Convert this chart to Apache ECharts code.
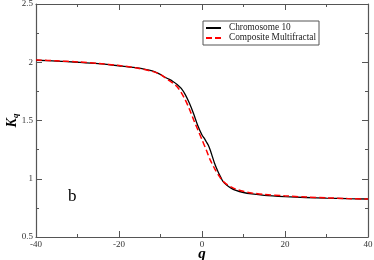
<!DOCTYPE html>
<html>
<head>
<meta charset="utf-8">
<script src="https://cdn.jsdelivr.net/npm/echarts@6/dist/echarts.min.js"></script>
<style>html,body{margin:0;padding:0;background:#fff;}#c{width:374px;height:260px;}</style>
</head>
<body>
<div id="c"></div>
<script>
const qChrom = [-40,-35,-30,-25,-20,-16,-12,-10,-9,-8,-7,-6,-5,-4,-3,-2,-1,0,0.5,1,1.5,2,2.5,3,3.5,4,4.5,5,6,7,8,10,12,15,20,25,30,35,40];
const kChrom = [2.017,2.010,2.000,1.988,1.970,1.953,1.925,1.895,1.873,1.855,1.835,1.81,1.775,1.72,1.645,1.555,1.455,1.375,1.35,1.32,1.29,1.245,1.19,1.135,1.09,1.05,1.015,0.98,0.945,0.92,0.903,0.882,0.870,0.858,0.847,0.839,0.833,0.829,0.826];
const qMulti = [-40,-35,-30,-25,-20,-16,-12,-10,-9,-8,-7,-6,-5,-4,-3,-2,-1,0,1,2,3,4,5,6,7,8,10,12,15,20,25,30,35,40];
const kMulti = [2.02,2.012,2.003,1.99,1.972,1.952,1.922,1.895,1.87,1.845,1.82,1.79,1.74,1.675,1.595,1.505,1.42,1.335,1.25,1.16,1.09,1.03,0.98,0.952,0.93,0.913,0.892,0.878,0.865,0.853,0.843,0.836,0.830,0.826];
const seriesNames = ['Chromosome 10', 'Composite Multifractal'];
const xTicks = [-40, -20, 0, 20, 40];
const yTicks = [0.5, 1, 1.5, 2, 2.5];

const FONT = 'Liberation Serif';
const axisColor = '#555';
const chart = echarts.init(document.getElementById('c'));
function zip(a, b) { return a.map((v, i) => [v, b[i]]); }
const baseX = {
  type: 'value', min: xTicks[0], max: xTicks[xTicks.length - 1], interval: 20,
  axisLine: { show: true, onZero: false, lineStyle: { color: axisColor, width: 1.2 } },
  axisTick: { show: true, inside: true, length: 6, lineStyle: { color: axisColor } },
  minorTick: { show: true, splitNumber: 2, length: 3, lineStyle: { color: axisColor } },
  splitLine: { show: false }
};
const baseY = {
  type: 'value', min: yTicks[0], max: yTicks[yTicks.length - 1], interval: 0.5,
  axisLine: { show: true, onZero: false, lineStyle: { color: axisColor, width: 1.2 } },
  axisTick: { show: true, inside: true, length: 6, lineStyle: { color: axisColor } },
  minorTick: { show: true, splitNumber: 2, length: 3, lineStyle: { color: axisColor } },
  splitLine: { show: false }
};
chart.setOption({
  animation: false,
  backgroundColor: '#fff',
  grid: { left: 36, right: 6, top: 4, bottom: 23, containLabel: false, outerBoundsMode: 'none' },
  xAxis: [
    Object.assign({}, baseX, {
      position: 'bottom',
      axisLabel: { fontFamily: FONT, fontSize: 9, color: '#333', margin: 3, formatter: v => String(v) },
      name: 'q', nameLocation: 'middle', nameGap: 9.5, nameMoveOverlap: false,
      nameTextStyle: { fontFamily: FONT, fontSize: 15, fontWeight: 'bold', fontStyle: 'italic', color: '#000' }
    }),
    Object.assign({}, baseX, { position: 'top', axisLabel: { show: false } })
  ],
  yAxis: [
    Object.assign({}, baseY, {
      position: 'left',
      axisLabel: { fontFamily: FONT, fontSize: 9, color: '#333', margin: 3, formatter: v => String(v) },
      name: '{k|K}{s|q}', nameLocation: 'middle', nameGap: 16, nameRotate: 90, nameMoveOverlap: false,
      nameTextStyle: {
        rich: {
          k: { fontFamily: FONT, fontSize: 14, fontWeight: 'bold', fontStyle: 'italic', color: '#000' },
          s: { fontFamily: FONT, fontSize: 9, fontWeight: 'bold', fontStyle: 'italic', color: '#000', verticalAlign: 'bottom', padding: [6, 0, 0, 0] }
        }
      }
    }),
    Object.assign({}, baseY, { position: 'right', axisLabel: { show: false } })
  ],
  legend: {
    orient: 'vertical', left: 203, top: 21,
    itemWidth: 15, itemHeight: 8, itemGap: 0,
    padding: [2, 3, 2, 2],
    borderColor: '#555', borderWidth: 1,
    itemStyle: { opacity: 0, borderWidth: 0 },
    textStyle: { fontFamily: FONT, fontSize: 9.3, lineHeight: 10, color: '#222', padding: [0, 0, 0, 3] },
    data: seriesNames
  },
  graphic: [{
    type: 'text', left: 68, top: 188,
    style: { text: 'b', fontFamily: FONT, fontSize: 17, fill: '#000' }
  }],
  series: [
    {
      name: seriesNames[0], type: 'line', data: zip(qChrom, kChrom),
      showSymbol: false, symbol: 'none', smooth: 0.3,
      lineStyle: { color: '#000', width: 1.3 }, itemStyle: { color: '#000' }, z: 2
    },
    {
      name: seriesNames[1], type: 'line', data: zip(qMulti, kMulti),
      showSymbol: false, symbol: 'none', smooth: 0.3,
      lineStyle: { color: '#ff0000', width: 1.5, type: [6, 3] }, itemStyle: { color: '#ff0000' }, z: 3
    }
  ]
});
</script>
</body>
</html>
